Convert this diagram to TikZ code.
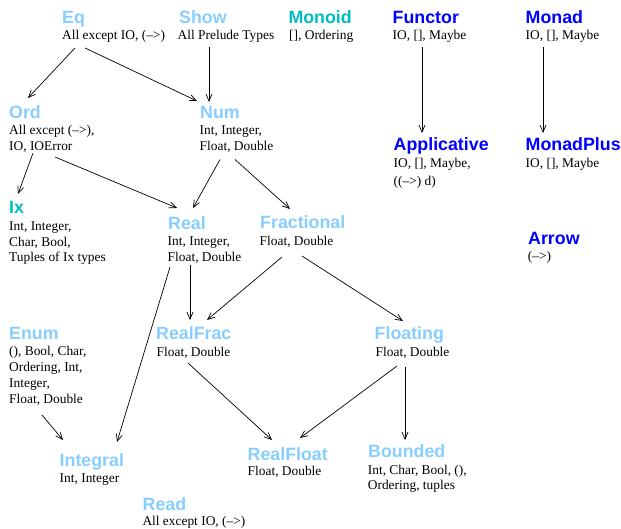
\documentclass[tikz,border=0pt]{standalone}
\usepackage{fontspec}
\setmainfont{Liberation Serif}
\newfontfamily\hfont{Liberation Sans}
\usetikzlibrary{calc,arrows.meta}
\definecolor{lb}{RGB}{135,206,255}
\definecolor{tl}{RGB}{0,190,190}
\definecolor{bl}{RGB}{0,0,255}
\tikzset{
 ttl/.style={anchor=base west,inner sep=0pt,font=\hfont\bfseries\fontsize{17.8}{20}\selectfont},
 lbt/.style={ttl,text=lb}, tlt/.style={ttl,text=tl}, blt/.style={ttl,text=bl},
 txt/.style={anchor=base west,inner sep=0pt,font=\fontsize{13.4}{16}\selectfont},
 arr/.style={-{Straight Barb[length=7pt,width=6pt]},line width=0.7pt}
}
\begin{document}
\begin{tikzpicture}[x=1pt,y=-1pt]
\useasboundingbox (0,0) rectangle (621,528);
% row 1
\node[lbt] (eq) at (62,23.5) {Eq};
\node[txt] (eqt) at (62,39) {All except IO, (\textendash>)};
\node[lbt] (show) at (179,23.5) {Show};
\node[txt] (showt) at (177.5,39) {All Prelude Types};
\node[tlt] (monoid) at (288.3,23.5) {Monoid};
\node[txt] (monoidt) at (289,39) {[], Ordering};
\node[blt] (functor) at (392.5,23.5) {Functor};
\node[txt] (functort) at (392.5,39) {IO, [], Maybe};
\node[blt] (monad) at (525.5,23.5) {Monad};
\node[txt] (monadt) at (525.5,39) {IO, [], Maybe};
% row 2
\node[lbt] (ord) at (9,118) {Ord};
\node[txt] (ordt1) at (9,134.5) {All except (\textendash>),};
\node[txt] (ordt2) at (9,150.5) {IO, IOError};
\node[lbt] (num) at (200,118) {Num};
\node[txt] (numt1) at (199.5,134.5) {Int, Integer,};
\node[txt] (numt2) at (199.5,150.5) {Float, Double};
\node[blt] (appl) at (393.5,150) {Applicative};
\node[txt] (applt1) at (393.5,167) {IO, [], Maybe,};
\node[txt] (applt2) at (393.5,185.5) {((\textendash>) d)};
\node[blt] (mplus) at (525.5,150) {MonadPlus};
\node[txt] (mplust) at (525.5,167) {IO, [], Maybe};
% row 3
\node[tlt] (ix) at (9,213) {Ix};
\node[txt] (ixt1) at (9,230.5) {Int, Integer,};
\node[txt] (ixt2) at (9,246.5) {Char, Bool,};
\node[txt] (ixt3) at (9,261.5) {Tuples of Ix types};
\node[lbt] (real) at (168,229) {Real};
\node[txt] (realt1) at (167.5,245.5) {Int, Integer,};
\node[txt] (realt2) at (167.5,261) {Float, Double};
\node[lbt] (frac) at (260,228.5) {Fractional};
\node[txt] (fract) at (259.5,245.5) {Float, Double};
\node[blt] (arrow) at (528,244.5) {Arrow};
\node[txt] (arrowt) at (527.7,260) {(\textendash>)};
% row 4
\node[lbt] (enum) at (9,339.5) {Enum};
\node[txt] (enumt1) at (9,355.5) {(), Bool, Char,};
\node[txt] (enumt2) at (9,371) {Ordering, Int,};
\node[txt] (enumt3) at (9,387) {Integer,};
\node[txt] (enumt4) at (9,403) {Float, Double};
\node[lbt] (realfrac) at (156,339.5) {RealFrac};
\node[txt] (realfract) at (156.5,356) {Float, Double};
\node[lbt] (floating) at (374.5,339.5) {Floating};
\node[txt] (floatingt) at (375.5,356) {Float, Double};
% row 5
\node[lbt] (integral) at (59.5,466) {Integral};
\node[txt] (integralt) at (59.5,482) {Int, Integer};
\node[lbt] (realfloat) at (247.5,460) {RealFloat};
\node[txt] (realfloatt) at (247.5,475.5) {Float, Double};
\node[lbt] (bounded) at (368,457.5) {Bounded};
\node[txt] (boundedt1) at (367.7,474) {Int, Char, Bool, (),};
\node[txt] (boundedt2) at (367.7,489.5) {Ordering, tuples};
\node[lbt] (read) at (142.5,510) {Read};
\node[txt] (readt) at (142.3,525) {All except IO, (\textendash>)};
% connectors
\draw[arr] ($(eqt.base west)+(13,9)$) -- ($(ord.base west)+(19,-20)$);
\draw[arr] ($(eqt.base west)+(23,9)$) -- ($(num.base west)+(-3,-17)$);
\draw[arr] ($(showt.base west)+(31.5,8)$) -- ($(num.base west)+(9,-16)$);
\draw[arr] ($(ordt2.base west)+(24,2.5)$) -- ($(ix.base west)+(9,-19)$);
\draw[arr] ($(ordt2.base west)+(46,6.5)$) -- ($(real.base west)+(9,-21)$);
\draw[arr] ($(numt2.base west)+(20.5,9)$) -- ($(real.base west)+(25,-21)$);
\draw[arr] ($(numt2.base west)+(35.5,9)$) -- ($(frac.base west)+(30,-19.5)$);
\draw[arr] ($(realt2.base west)+(22.5,4)$) -- ($(realfrac.base west)+(34,-19.5)$);
\draw[arr] ($(realt2.base west)+(2.5,6)$) -- ($(integral.base west)+(57.5,-24)$);
\draw[arr] ($(fract.base west)+(22.5,11.5)$) -- ($(realfrac.base west)+(51,-19.5)$);
\draw[arr] ($(fract.base west)+(42.5,10.5)$) -- ($(floating.base west)+(28.5,-18.5)$);
\draw[arr] ($(realfract.base west)+(31.5,7)$) -- ($(realfloat.base west)+(24.5,-20)$);
\draw[arr] ($(floatingt.base west)+(21.5,10)$) -- ($(realfloat.base west)+(52.5,-22)$);
\draw[arr] ($(floatingt.base west)+(29.5,11)$) -- ($(bounded.base west)+(37,-17.5)$);
\draw[arr] ($(enumt4.base west)+(33,12)$) -- ($(integral.base west)+(3.5,-26)$);
\draw[arr] ($(functort.base west)+(29.5,8)$) -- ($(appl.base west)+(28.5,-17)$);
\draw[arr] ($(monadt.base west)+(17.5,8)$) -- ($(mplus.base west)+(17.5,-17)$);
\end{tikzpicture}
\end{document}
